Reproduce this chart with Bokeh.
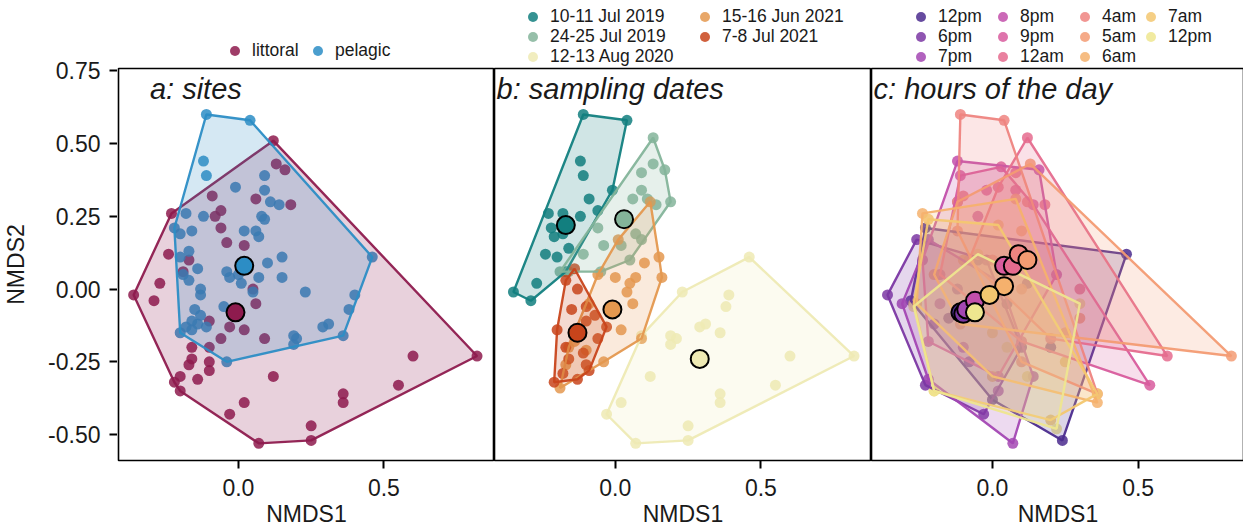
from bokeh.plotting import figure
from bokeh.models import Range1d, FixedTicker, NumeralTickFormatter, Legend, LegendItem, Label
from bokeh.layouts import row, column
from bokeh.embed import file_html
from bokeh.resources import INLINE

# ---------------- panel a: sites ----------------
site_labels = ["littoral", "pelagic"]
site_colors = ["#8E1B4E", "#2C8DC5"]
littoral_x = [0.12, 0.13, 0.16, -0.09, 0.06, 0.18, -0.06, -0.08, -0.23, -0.06, -0.04, 0.02, -0.24, -0.17,
              -0.19, -0.27, -0.36, -0.29, 0.05, 0.06, -0.10, -0.03, 0.02, -0.06, 0.09, -0.16, -0.10, -0.16,
              -0.17, -0.10, -0.10, -0.14, -0.20, -0.22, -0.20, 0.12, 0.60, 0.82, 0.55, 0.36, 0.36, 0.02,
              -0.03, 0.25, 0.25, 0.07]
littoral_y = [0.51, 0.43, 0.41, 0.32, 0.31, 0.29, 0.27, 0.25, 0.26, 0.21, 0.16, 0.15, 0.12, 0.10,
              0.06, 0.02, -0.02, -0.04, 0.00, -0.05, -0.11, -0.13, -0.14, -0.17, -0.17, -0.20, -0.20, -0.24,
              -0.26, -0.25, -0.28, -0.31, -0.30, -0.32, -0.35, -0.30, -0.23, -0.23, -0.33, -0.36, -0.39, -0.39,
              -0.43, -0.47, -0.52, -0.53]
pelagic_x = [-0.11, 0.04, -0.12, -0.11, 0.09, -0.01, 0.09, 0.11, 0.14, -0.18, -0.12, 0.08, 0.09, -0.22,
             -0.20, -0.16, 0.02, 0.06, 0.07, -0.17, -0.20, 0.15, -0.04, 0.00, 0.10, -0.14, -0.19, 0.07,
             -0.17, 0.15, -0.13, 0.05, -0.13, 0.23, 0.46, 0.40, 0.38, -0.15, -0.13, -0.16, -0.14, -0.11,
             -0.18, -0.20, -0.16, 0.29, 0.31, 0.36, 0.19, 0.20, 0.19, -0.04, -0.05, 0.01, -0.03]
pelagic_y = [0.60, 0.58, 0.44, 0.39, 0.39, 0.35, 0.34, 0.30, 0.29, 0.26, 0.25, 0.25, 0.24, 0.21,
             0.19, 0.20, 0.20, 0.20, 0.18, 0.13, 0.11, 0.11, 0.06, 0.05, 0.09, 0.07, 0.05, 0.04,
             0.03, 0.04, 0.00, -0.01, -0.02, -0.01, 0.11, -0.02, -0.07, -0.07, -0.09, -0.11, -0.12, -0.13,
             -0.13, -0.15, -0.14, -0.13, -0.12, -0.16, -0.16, -0.17, -0.19, -0.25, -0.06, 0.02, 0.04]
site_cx = [-0.01, 0.02]
site_cy = [-0.08, 0.08]

# ---------------- panel b: sampling dates ----------------
date_labels = ["10-11 Jul 2019", "24-25 Jul 2019", "12-13 Aug 2020", "15-16 Jun 2021", "7-8 Jul 2021"]
date_colors = ["#127F7F", "#84B49A", "#EEEAB4", "#E4984F", "#C8441B"]
jul2019a_x = [-0.11, 0.04, -0.12, -0.11, -0.09, -0.01, -0.23, -0.18, -0.06, -0.12, -0.22, -0.21, -0.18,
              -0.24, -0.20, -0.16, -0.27, -0.35, -0.29, -0.17]
jul2019a_y = [0.60, 0.58, 0.44, 0.39, 0.31, 0.34, 0.26, 0.26, 0.27, 0.25, 0.21, 0.18, 0.19,
              0.12, 0.11, 0.14, 0.02, -0.01, -0.04, 0.06]
jul2019b_x = [0.13, 0.13, 0.17, 0.09, 0.09, 0.06, 0.14, 0.19, 0.11, -0.06, 0.07, -0.04, 0.09, 0.02,
              -0.19, -0.16, -0.05, 0.05, -0.11]
jul2019b_y = [0.52, 0.43, 0.41, 0.40, 0.34, 0.31, 0.29, 0.30, 0.31, 0.21, 0.19, 0.15, 0.17, 0.15,
              0.06, 0.06, 0.06, 0.10, 0.12]
aug2020_x = [0.46, 0.23, 0.39, 0.38, 0.31, 0.29, 0.36, 0.19, 0.21, 0.19, 0.09, 0.60, 0.82, 0.12,
             0.55, 0.36, 0.36, 0.02, -0.03, 0.25, 0.25, 0.07]
aug2020_y = [0.11, -0.01, -0.02, -0.06, -0.12, -0.13, -0.15, -0.16, -0.17, -0.19, -0.16, -0.23, -0.23, -0.30,
             -0.33, -0.36, -0.39, -0.39, -0.43, -0.47, -0.52, -0.53]
jun2021_x = [0.12, 0.15, 0.16, 0.10, 0.07, 0.00, 0.05, 0.04, 0.06, 0.02, 0.09, -0.04, -0.19, -0.16,
             -0.17, -0.10, -0.14, -0.09, 0.01, -0.06]
jun2021_y = [0.30, 0.11, 0.04, 0.09, 0.04, 0.04, 0.02, -0.01, -0.05, -0.14, -0.17, -0.25, -0.34, -0.20,
             -0.26, -0.21, -0.18, -0.05, 0.17, 0.05]
jul2021_x = [-0.14, -0.17, -0.13, -0.15, -0.03, -0.06, -0.09, -0.13, -0.21, -0.20, -0.10, -0.17, -0.11,
             -0.16, -0.10, -0.18, -0.10, -0.07]
jul2021_y = [0.07, 0.03, 0.00, -0.07, -0.13, -0.17, -0.28, -0.31, -0.32, -0.14, -0.11, -0.20, -0.22,
             -0.24, -0.26, -0.29, -0.06, -0.09]
date_cx = [-0.17, 0.03, 0.29, -0.01, -0.13]
date_cy = [0.22, 0.24, -0.24, -0.07, -0.15]

# ---------------- panel c: hours of the day ----------------
hour_labels = ["12pm", "6pm", "7pm", "8pm", "9pm", "12am", "4am", "5am", "6am", "7am", "12pm"]
hour_colors = ["#4B2C8E", "#7B37A3", "#A347B3", "#C24FAA", "#D85C9D", "#E56B8E",
               "#EE8480", "#F39B73", "#F5B16D", "#F3C770", "#EEE68F"]
h12pm_x = [-0.23, 0.46, 0.24, 0.00, -0.28, -0.15, 0.05, 0.20, -0.05, 0.12]
h12pm_y = [0.21, 0.12, -0.52, -0.38, -0.04, -0.10, -0.05, -0.20, 0.10, 0.02]
h6pm_x = [-0.36, -0.26, -0.02, 0.10, -0.03, -0.23, -0.20, -0.12, -0.08]
h6pm_y = [-0.02, 0.17, 0.10, -0.20, -0.43, -0.33, -0.12, 0.00, -0.25]
h7pm_x = [-0.31, -0.22, 0.03, 0.14, 0.07, -0.22, -0.10, -0.18, 0.02]
h7pm_y = [-0.05, 0.17, 0.02, -0.30, -0.53, -0.31, -0.20, -0.05, -0.35]
h8pm_x = [-0.12, 0.16, 0.22, 0.02, -0.22, -0.24, -0.05, 0.05, -0.12]
h8pm_y = [0.44, 0.41, 0.05, -0.30, -0.18, 0.10, 0.25, 0.05, 0.30]
h9pm_x = [-0.11, 0.03, 0.54, 0.10, -0.18, 0.08, 0.14, -0.02]
h9pm_y = [0.39, 0.42, -0.33, -0.18, 0.05, 0.34, 0.29, 0.34]
h12am_x = [0.12, 0.60, 0.20, -0.08, 0.02, 0.18, 0.08, 0.30]
h12am_y = [0.52, -0.23, -0.17, 0.10, 0.35, 0.29, 0.40, 0.00]
h4am_x = [-0.11, 0.04, 0.36, 0.10, -0.12, -0.10, 0.12, 0.00]
h4am_y = [0.60, 0.58, -0.36, -0.25, 0.20, 0.32, 0.30, 0.10]
h5am_x = [0.13, 0.82, -0.11, -0.20, -0.12, 0.10, 0.30]
h5am_y = [0.43, -0.23, -0.12, 0.05, 0.30, 0.00, -0.10]
h6am_x = [-0.24, 0.08, 0.36, 0.00, -0.26, -0.10, 0.10, 0.25]
h6am_y = [0.26, 0.31, -0.39, -0.30, -0.05, 0.10, 0.20, -0.15]
h7am_x = [-0.22, 0.02, 0.36, 0.20, -0.20, -0.27, 0.00, 0.25]
h7am_y = [0.24, 0.22, -0.36, -0.45, -0.35, -0.05, -0.15, -0.25]
h12pm2_x = [-0.20, 0.22, 0.30, -0.05, -0.27, 0.05, 0.12]
h12pm2_y = [-0.35, -0.48, -0.05, 0.12, -0.06, -0.20, -0.30]
hour_cx = [-0.11, -0.10, -0.09, -0.06, 0.04, 0.07, 0.09, 0.12, 0.04, -0.01, -0.06]
hour_cy = [-0.08, -0.085, -0.07, -0.04, 0.08, 0.08, 0.12, 0.10, 0.01, -0.02, -0.08]

x_ticks = [0.0, 0.5]
y_ticks = [-0.5, -0.25, 0.0, 0.25, 0.5, 0.75]

FONT = "Liberation Sans"
TXT = "#1A1A1A"
H = 532
FRAME_TOP = 68
BOTTOM = 72
LEG_H = 67          # height of the legend strip above each panel
Y_RANGE = (-0.589, 0.758)


def hull(xs, ys):
    pts = sorted(set(zip(xs, ys)))
    if len(pts) < 3:
        return [p[0] for p in pts], [p[1] for p in pts]

    def cross(o, a, b):
        return (a[0] - o[0]) * (b[1] - o[1]) - (a[1] - o[1]) * (b[0] - o[0])

    lower = []
    for p in pts:
        while len(lower) >= 2 and cross(lower[-2], lower[-1], p) <= 0:
            lower.pop()
        lower.append(p)
    upper = []
    for p in reversed(pts):
        while len(upper) >= 2 and cross(upper[-2], upper[-1], p) <= 0:
            upper.pop()
        upper.append(p)
    h = lower[:-1] + upper[:-1]
    return [p[0] for p in h], [p[1] for p in h]


def style_axis(ax):
    ax.axis_line_color = None
    ax.major_tick_line_color = "black"
    ax.major_tick_line_width = 2
    ax.major_tick_out = 8
    ax.major_tick_in = 0
    ax.minor_tick_out = 0
    ax.minor_tick_in = 0
    ax.major_label_text_font = FONT
    ax.major_label_text_font_size = "23px"
    ax.major_label_text_color = TXT
    ax.axis_label_text_font = FONT
    ax.axis_label_text_font_size = "23px"
    ax.axis_label_text_font_style = "normal"
    ax.axis_label_text_color = TXT


def y_axis_fig():
    # narrow figure that only carries the shared NMDS2 axis of panel a
    f = figure(width=117, height=H, output_backend="svg", toolbar_location=None,
               x_range=Range1d(0, 1), y_range=Range1d(*Y_RANGE), x_axis_location=None,
               min_border_left=116, min_border_right=0, min_border_top=FRAME_TOP, min_border_bottom=BOTTOM,
               outline_line_color=None, background_fill_color="white", border_fill_color="white")
    f.grid.visible = False
    ax = f.yaxis[0]
    style_axis(ax)
    ax.ticker = FixedTicker(ticks=y_ticks)
    ax.formatter = NumeralTickFormatter(format="0.00")
    ax.axis_label = "NMDS2"
    ax.major_label_standoff = 9
    ax.axis_label_standoff = 16
    return f


def make_fig(width, x_start, x_end, left_border):
    p = figure(width=width, height=H - LEG_H, output_backend="svg", toolbar_location=None,
               x_range=Range1d(x_start, x_end), y_range=Range1d(*Y_RANGE), y_axis_location=None,
               min_border_top=FRAME_TOP - LEG_H, min_border_bottom=BOTTOM,
               min_border_left=left_border, min_border_right=0,
               background_fill_color="white", border_fill_color="white")
    p.grid.visible = False
    p.outline_line_color = "black"
    p.outline_line_width = 1.6
    p.outline_line_alpha = 1.0
    ax = p.xaxis[0]
    style_axis(ax)
    ax.ticker = FixedTicker(ticks=x_ticks)
    ax.formatter = NumeralTickFormatter(format="0.0")
    ax.axis_label = "NMDS1"
    ax.major_label_standoff = 10
    ax.axis_label_standoff = 2
    return p


def legend_fig(width, left_border):
    f = figure(width=width, height=LEG_H, output_backend="svg", toolbar_location=None,
               x_range=Range1d(10, 11), y_range=Range1d(10, 11),
               x_axis_location=None, y_axis_location=None,
               min_border_left=left_border, min_border_right=0, min_border_top=0, min_border_bottom=0,
               outline_line_color=None, background_fill_color="white", border_fill_color="white")
    f.grid.visible = False
    return f


def legend_entry(f, group, color, label, x_off, row_center):
    # invisible proxy renderer (same data, outside the strip's range) so the entry shows the marker
    gx, gy = group
    r = f.scatter(gx, gy, size=10, fill_color=color, fill_alpha=0.85, line_color=None)
    r.visible = False
    gh = 25
    y_off = int(round(LEG_H - (row_center + gh / 2)))
    leg = Legend(items=[LegendItem(label=label, renderers=[r])], location=(x_off, y_off),
                 label_text_font=FONT, label_text_font_size="17.5px", label_text_color=TXT,
                 glyph_width=25, glyph_height=gh, label_standoff=5, spacing=0,
                 padding=0, margin=0, border_line_alpha=0, background_fill_alpha=0,
                 inactive_fill_alpha=0)
    f.add_layout(leg, "center")


def draw_panel(p, groups, colors, cx, cy, title, tx):
    for (gx, gy), col in zip(groups, colors):
        p.scatter(gx, gy, size=11, fill_color=col, fill_alpha=0.85, line_color=None)
    for (gx, gy), col in zip(groups, colors):
        hx, hy = hull(gx, gy)
        p.patch(hx, hy, fill_color=col, fill_alpha=0.2, line_color=col, line_width=2.4, line_alpha=0.95)
    for i, col in enumerate(colors):
        p.scatter([cx[i]], [cy[i]], size=18, fill_color=col, fill_alpha=1.0, line_color="black", line_width=2)
    p.add_layout(Label(x=tx, y=0.688, text=title, text_font=FONT, text_font_style="italic",
                       text_font_size="29px", text_color=TXT, text_baseline="middle"))


site_groups = [(littoral_x, littoral_y), (pelagic_x, pelagic_y)]
date_groups = [(jul2019a_x, jul2019a_y), (jul2019b_x, jul2019b_y), (aug2020_x, aug2020_y),
               (jun2021_x, jun2021_y), (jul2021_x, jul2021_y)]
hour_groups = [(h12pm_x, h12pm_y), (h6pm_x, h6pm_y), (h7pm_x, h7pm_y), (h8pm_x, h8pm_y),
               (h9pm_x, h9pm_y), (h12am_x, h12am_y), (h4am_x, h4am_y), (h5am_x, h5am_y),
               (h6am_x, h6am_y), (h7am_x, h7am_y), (h12pm2_x, h12pm2_y)]

ROWS = [16.5, 36.5, 56.5]

ya = y_axis_fig()

# panel a (frame spans x = 117..493 on the page)
la = legend_fig(377, 1)
legend_entry(la, site_groups[0], site_colors[0], site_labels[0], 104, 50.5)
legend_entry(la, site_groups[1], site_colors[1], site_labels[1], 187, 50.5)
pa = make_fig(377, -0.412, 0.88, 1)
draw_panel(pa, site_groups, site_colors, site_cx, site_cy, "a: sites", -0.304)

# panel b (frame 493..870)
lb = legend_fig(377, 0)
for i in range(5):
    legend_entry(lb, date_groups[i], date_colors[i], date_labels[i], [26, 198][i // 3], ROWS[i % 3])
pb = make_fig(377, -0.415, 0.88, 0)
draw_panel(pb, date_groups, date_colors, date_cx, date_cy, "b: sampling dates", -0.408)

# panel c (frame 870..1243)
lc = legend_fig(373, 0)
for i in range(11):
    legend_entry(lc, hour_groups[i], hour_colors[i], hour_labels[i], [37, 119, 201, 267][i // 3], ROWS[i % 3])
pc = make_fig(373, -0.415, 0.865, 0)
draw_panel(pc, hour_groups, hour_colors, hour_cx, hour_cy, "c: hours of the day", -0.408)

layout = row(ya, column(la, pa, spacing=0), column(lb, pb, spacing=0), column(lc, pc, spacing=0), spacing=0)
open("out.html", "w").write(file_html(layout, INLINE))
